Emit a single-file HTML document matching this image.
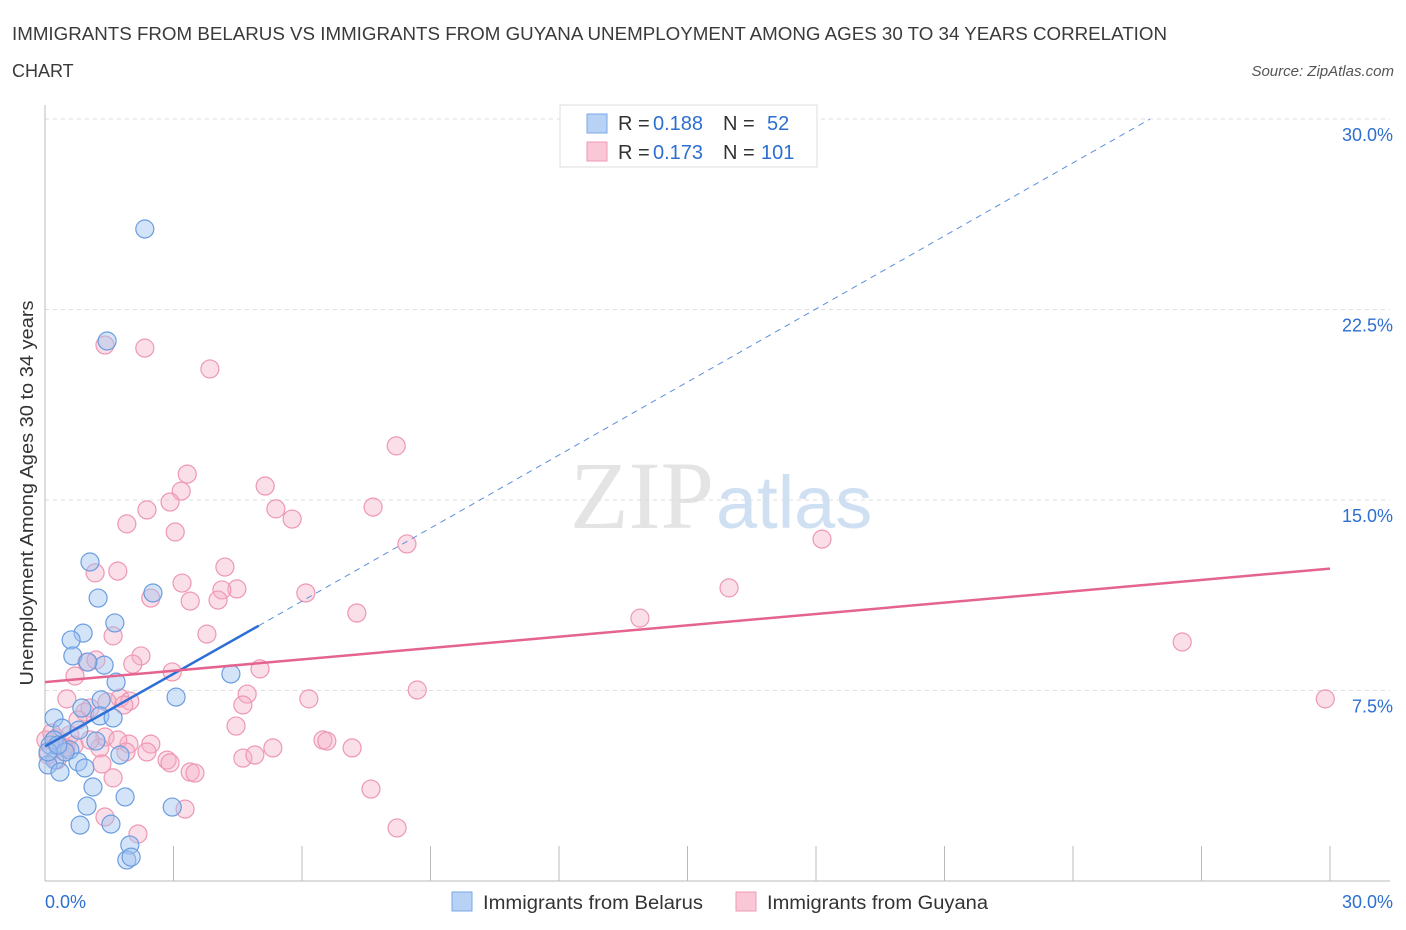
<!DOCTYPE html>
<html><head><meta charset="utf-8"><style>
body{margin:0;background:#fff;font-family:"Liberation Sans",sans-serif;}
svg{display:block}
</style></head><body>
<svg id="chart" width="1406" height="930">
<text x="12" y="40" font-size="18" fill="#3a3a3a" textLength="1155" lengthAdjust="spacingAndGlyphs">IMMIGRANTS FROM BELARUS VS IMMIGRANTS FROM GUYANA UNEMPLOYMENT AMONG AGES 30 TO 34 YEARS CORRELATION</text>
<text x="12" y="77" font-size="18" fill="#3a3a3a">CHART</text>
<text x="1394" y="76" font-size="15" fill="#555" font-style="italic" text-anchor="end">Source: ZipAtlas.com</text>
<text x="714" y="528" font-size="96" fill="#e4e4e4" text-anchor="end" font-family="Liberation Serif,serif">ZIP</text>
<text x="716" y="528" font-size="74" fill="#cfe0f3">atlas</text>
<g id="grid"></g>
<g id="axes"></g>
<g id="marks"></g>
<text x="33" y="493" font-size="18" fill="#333" text-anchor="middle" textLength="385" lengthAdjust="spacingAndGlyphs" transform="rotate(-90 33 493)">Unemployment Among Ages 30 to 34 years</text>
<g>
<rect x="560" y="105" width="257" height="62" fill="#fff" stroke="#ddd"/>
<rect x="587" y="114" width="20" height="19" fill="#b7d2f5" stroke="#7aa7e6"/>
<rect x="587" y="142" width="20" height="19" fill="#f9c7d6" stroke="#ee9ab4"/>
<text x="618" y="130" font-size="20" fill="#333">R =</text>
<text x="653" y="130" font-size="20" fill="#2d6fd1">0.188</text>
<text x="723" y="130" font-size="20" fill="#333">N =</text>
<text x="767" y="130" font-size="20" fill="#2d6fd1">52</text>
<text x="618" y="159" font-size="20" fill="#333">R =</text>
<text x="653" y="159" font-size="20" fill="#2d6fd1">0.173</text>
<text x="723" y="159" font-size="20" fill="#333">N =</text>
<text x="761" y="159" font-size="20" fill="#2d6fd1">101</text>
</g>
<g>
<rect x="452" y="892" width="20" height="19" fill="#b7d2f5" stroke="#7aa7e6"/>
<text x="483" y="909" font-size="19" fill="#333" textLength="220" lengthAdjust="spacingAndGlyphs">Immigrants from Belarus</text>
<rect x="736" y="892" width="20" height="19" fill="#f9c7d6" stroke="#ee9ab4"/>
<text x="767" y="909" font-size="19" fill="#333" textLength="221" lengthAdjust="spacingAndGlyphs">Immigrants from Guyana</text>
</g>
</svg>
<script>
const belarusX=[2.33,1.45,1.05,2.52,1.24,1.63,0.89,0.61,0.65,1.38,1.00,1.66,4.34,3.06,1.31,0.86,1.28,1.59,0.21,0.40,0.79,1.19,0.12,0.58,1.75,0.23,0.07,0.77,0.35,0.93,1.12,1.87,0.98,2.97,0.82,1.54,1.98,1.91,2.01,0.21,0.47,0.07,0.30];
const belarusY=[25.67,21.26,12.56,11.34,11.14,10.16,9.76,9.49,8.86,8.50,8.62,7.83,8.15,7.24,7.13,6.81,6.50,6.42,6.42,6.02,5.94,5.51,5.35,5.16,4.96,4.76,4.57,4.69,4.29,4.45,3.70,3.31,2.95,2.91,2.20,2.24,1.42,0.83,0.94,5.55,5.08,5.08,5.35];
const guyanaX=[2.33,1.40,3.85,8.20,3.32,3.18,2.92,5.14,2.38,7.66,5.39,5.77,1.91,3.04,8.45,18.14,4.20,1.17,1.70,3.20,2.47,4.48,4.13,3.39,4.04,6.09,7.28,13.89,15.97,26.55,1.59,3.78,2.24,2.05,0.98,1.19,2.97,5.02,0.70,29.89,8.69,6.16,4.72,1.75,1.98,0.51,1.45,4.62,0.93,1.05,1.84,0.77,4.46,1.40,2.47,1.96,1.70,0.26,0.35,0.02,0.49,0.68,1.28,2.38,2.85,4.62,4.90,5.32,6.49,6.58,7.17,2.92,3.39,3.50,1.89,1.33,1.59,7.61,8.22,3.27,1.40,2.17,0.44,0.16,0.28,0.58,0.07,1.05];
const guyanaY=[20.98,21.10,20.16,17.13,16.02,15.35,14.92,15.55,14.61,14.72,14.65,14.25,14.06,13.74,13.27,13.46,12.36,12.13,12.20,11.73,11.14,11.50,11.46,11.02,11.06,11.34,10.55,10.35,11.54,9.41,9.65,9.72,8.86,8.54,8.62,8.70,8.23,8.35,8.07,7.17,7.52,7.17,7.36,7.20,7.09,7.17,7.05,6.93,6.65,6.81,6.93,6.34,6.10,5.67,5.39,5.39,5.55,5.63,5.35,5.55,5.24,5.35,5.24,5.08,4.76,4.84,4.96,5.24,5.55,5.51,5.24,4.65,4.29,4.25,5.08,4.61,4.06,3.62,2.09,2.83,2.52,1.85,5.24,5.83,4.76,5.75,4.96,5.55];
const yTicks=[7.5,15.0,22.5,30.0];
const xTickLabels=["0.0%","30.0%"];
const belarusTrend=[0,5.3,4.99,10.05];
const belarusDashEnd=[25.8,30.0];
const guyanaTrend=[0,7.83,30,12.3];

const NS="http://www.w3.org/2000/svg";
const X0=45,X1=1330,Y0=881,Y1=119;
const sx=v=>X0+(v/30)*(X1-X0);
const sy=v=>Y0-(v/30)*(Y0-Y1);
function mk(tag,attrs,parent){const e=document.createElementNS(NS,tag);for(const k in attrs)e.setAttribute(k,attrs[k]);parent.appendChild(e);return e;}
const grid=document.getElementById('grid'),axes=document.getElementById('axes'),marks=document.getElementById('marks');
yTicks.forEach(t=>{
  const l=mk('line',{x1:X0,x2:X1+60,y1:sy(t),y2:sy(t),stroke:'#ddd','stroke-dasharray':'4,4'},grid);
  
  
  const tx=mk('text',{x:1393,y:sy(t)+22,'font-size':18,fill:'#2d6fd1','text-anchor':'end'},axes);
  tx.textContent=t.toFixed(1)+'%';
  
  
});
const ya=mk('line',{x1:X0,x2:X0,y1:105,y2:Y0,stroke:'#bbb'},axes);


const xa=mk('line',{x1:X0,x2:X1+60,y1:Y0,y2:Y0,stroke:'#bbb'},axes);


for(let i=1;i<=10;i++){const t=mk('line',{x1:sx(i*3),x2:sx(i*3),y1:846,y2:Y0,stroke:'#bbb'},axes);

}
const xl0=mk('text',{x:45,y:908,'font-size':18,fill:'#2d6fd1'},axes);xl0.textContent=xTickLabels[0];


const xl1=mk('text',{x:1393,y:908,'font-size':18,fill:'#2d6fd1','text-anchor':'end'},axes);xl1.textContent=xTickLabels[1];


guyanaX.forEach((x,i)=>{const c=mk('circle',{cx:sx(x),cy:sy(guyanaY[i]),r:9,fill:'rgba(246,175,198,0.4)',stroke:'#ee97b3','stroke-width':1.2},marks);

});
belarusX.forEach((x,i)=>{const c=mk('circle',{cx:sx(x),cy:sy(belarusY[i]),r:9,fill:'rgba(160,196,240,0.45)',stroke:'#6a9de0','stroke-width':1.2},marks);

});
const bd=mk('line',{x1:sx(belarusTrend[2]),y1:sy(belarusTrend[3]),x2:sx(belarusDashEnd[0]),y2:sy(belarusDashEnd[1]),stroke:'#5b8fdc','stroke-width':1,'stroke-dasharray':'6,5'},marks);


const bt=mk('line',{x1:sx(belarusTrend[0]),y1:sy(belarusTrend[1]),x2:sx(belarusTrend[2]),y2:sy(belarusTrend[3]),stroke:'#2e6fd6','stroke-width':2.5},marks);


const gt=mk('line',{x1:sx(guyanaTrend[0]),y1:sy(guyanaTrend[1]),x2:sx(guyanaTrend[2]),y2:sy(guyanaTrend[3]),stroke:'#e4648f','stroke-width':2.5},marks);


</script>
</body></html>
